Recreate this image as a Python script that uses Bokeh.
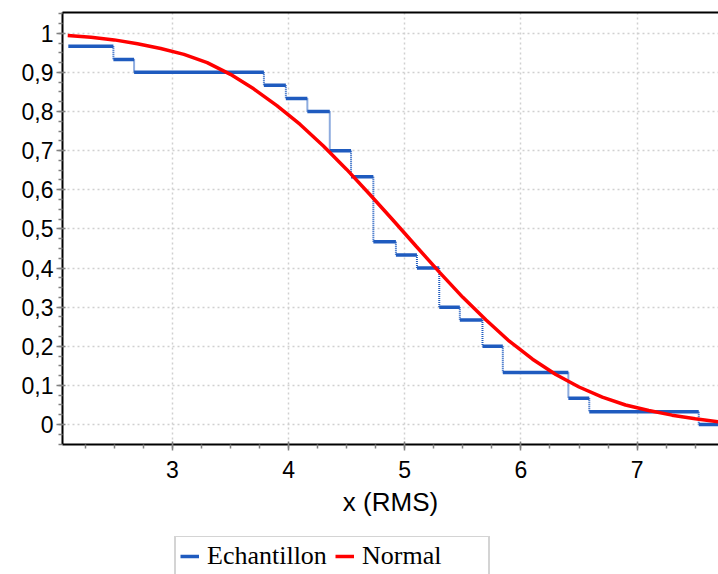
from bokeh.plotting import figure
from bokeh.layouts import column
from bokeh.models import (Range1d, LinearAxis, SingleIntervalTicker, FixedTicker,
                          CustomJSTickFormatter, Legend, LegendItem, ColumnDataSource)
from bokeh.embed import file_html
from bokeh.resources import INLINE

# Empirical survival function (sample, step function)
step_x = [2.105, 2.493, 2.671, 3.788, 3.977, 4.162, 4.355, 4.538, 4.730, 4.924,
          5.105, 5.297, 5.474, 5.669, 5.844, 6.408, 6.588, 7.530]
step_y = [0.967, 0.933, 0.900, 0.867, 0.833, 0.800, 0.700, 0.633, 0.467, 0.433,
          0.400, 0.300, 0.267, 0.200, 0.133, 0.067, 0.033, 0.000]
x_min, x_max = 2.055, 7.70

# Fitted normal survival curve
norm_x = [2.1, 2.3, 2.5, 2.7, 2.9, 3.1, 3.3, 3.5, 3.7, 3.9, 4.1, 4.3, 4.5, 4.7, 4.9,
          5.1, 5.3, 5.5, 5.7, 5.9, 6.1, 6.3, 6.5, 6.7, 6.9, 7.1, 7.3, 7.5, 7.7]
norm_y = [0.994, 0.990, 0.983, 0.973, 0.961, 0.946, 0.925, 0.895, 0.858, 0.815,
          0.767, 0.712, 0.652, 0.588, 0.522, 0.455, 0.389, 0.325, 0.267, 0.213,
          0.167, 0.128, 0.096, 0.070, 0.050, 0.036, 0.024, 0.015, 0.007]

series_names = ["Echantillon", "Normal"]

BLUE = "#1f5bbf"
RED = "#ff0000"

p = figure(width=718, height=536, output_backend="svg", toolbar_location=None,
           x_range=Range1d(x_min, x_max), y_range=Range1d(-0.051, 1.053),
           min_border_left=62, min_border_right=0, min_border_top=12,
           min_border_bottom=92)
p.outline_line_color = None
p.background_fill_color = "white"
p.border_fill_color = "white"

xt = SingleIntervalTicker(interval=1, num_minor_ticks=4)
yt = SingleIntervalTicker(interval=0.1, num_minor_ticks=4)
p.xaxis.ticker = xt
p.yaxis.ticker = yt
p.xgrid.ticker = xt
p.ygrid.ticker = yt
for g in (p.xgrid, p.ygrid):
    g.grid_line_color = "#d0d0d0"
    g.grid_line_dash = "2 3"
    g.grid_line_width = 1.5

p.yaxis.formatter = CustomJSTickFormatter(
    code="var s = (Math.round(tick*10)/10).toString(); return s.replace('.', ',');")

for ax in (p.xaxis, p.yaxis):
    ax.axis_line_color = "black"
    ax.axis_line_width = 2
    ax.major_tick_line_color = "#808080"
    ax.minor_tick_line_color = "#808080"
    ax.major_tick_line_width = 1.5
    ax.minor_tick_line_width = 1.5
    ax.major_tick_in = 3
    ax.major_tick_out = 6
    ax.minor_tick_in = 0
    ax.minor_tick_out = 4
    ax.major_label_text_font = "Liberation Sans"
    ax.major_label_text_font_size = "23px"
    ax.major_label_text_color = "black"

p.yaxis.major_label_standoff = 3
p.xaxis.major_label_standoff = 10
p.xaxis.axis_label = "x (RMS)"
p.xaxis.axis_label_text_font = "Liberation Sans"
p.xaxis.axis_label_text_font_size = "26px"
p.xaxis.axis_label_text_font_style = "normal"
p.xaxis.axis_label_text_color = "black"
p.xaxis.axis_label_standoff = 6

top = LinearAxis(ticker=FixedTicker(ticks=[]), axis_line_color="black",
                 axis_line_width=2, major_tick_out=0, major_tick_in=0,
                 minor_tick_out=0, minor_tick_in=0,
                 major_label_text_font_size="0px", major_label_standoff=0)
p.add_layout(top, "above")

# step function pieces built from the data
h_src = ColumnDataSource(dict(x0=step_x, x1=step_x[1:] + [x_max], y=step_y))
v_src = ColumnDataSource(dict(x=step_x[1:], y0=step_y[:-1], y1=step_y[1:]))

p.segment(x0="x", y0="y0", x1="x", y1="y1", source=v_src, line_color=BLUE,
          line_width=2, line_dash="1 1")
p.segment(x0="x0", y0="y", x1="x1", y1="y", source=h_src,
          line_color=BLUE, line_width=3.5)
p.line(norm_x, norm_y, line_color=RED, line_width=3.5)

# legend strip below the chart (its frame is aligned with the chart's frame);
# the series are drawn outside its view so only the legend shows
q = figure(width=718, height=38, output_backend="svg", toolbar_location=None,
           x_range=Range1d(-1, 0), y_range=Range1d(0, 1),
           min_border=0, min_border_left=0, min_border_right=0,
           min_border_top=0, min_border_bottom=0)
q.axis.visible = False
q.grid.visible = False
q.outline_line_color = None
q.background_fill_color = "white"
q.border_fill_color = "white"
lb = q.segment(x0="x0", y0="y", x1="x1", y1="y", source=h_src,
               line_color=BLUE, line_width=3.5)
lr = q.line(norm_x, norm_y, line_color=RED, line_width=3.5)

legend = Legend(items=[LegendItem(label=series_names[0], renderers=[lb]),
                       LegendItem(label=series_names[1], renderers=[lr])],
                orientation="horizontal", location=(112, -3))
legend.label_text_font = "Liberation Serif"
legend.label_text_font_size = "26px"
legend.label_text_color = "black"
legend.label_width = 122
legend.glyph_width = 19
legend.glyph_height = 20
legend.label_standoff = 8
legend.spacing = 6
legend.padding = 4
legend.margin = 0
legend.border_line_color = "#aaaaaa"
legend.border_line_width = 2
legend.background_fill_color = "white"
q.add_layout(legend, "center")

layout = column(p, q, spacing=0)
open("out.html", "w").write(file_html(layout, INLINE))
